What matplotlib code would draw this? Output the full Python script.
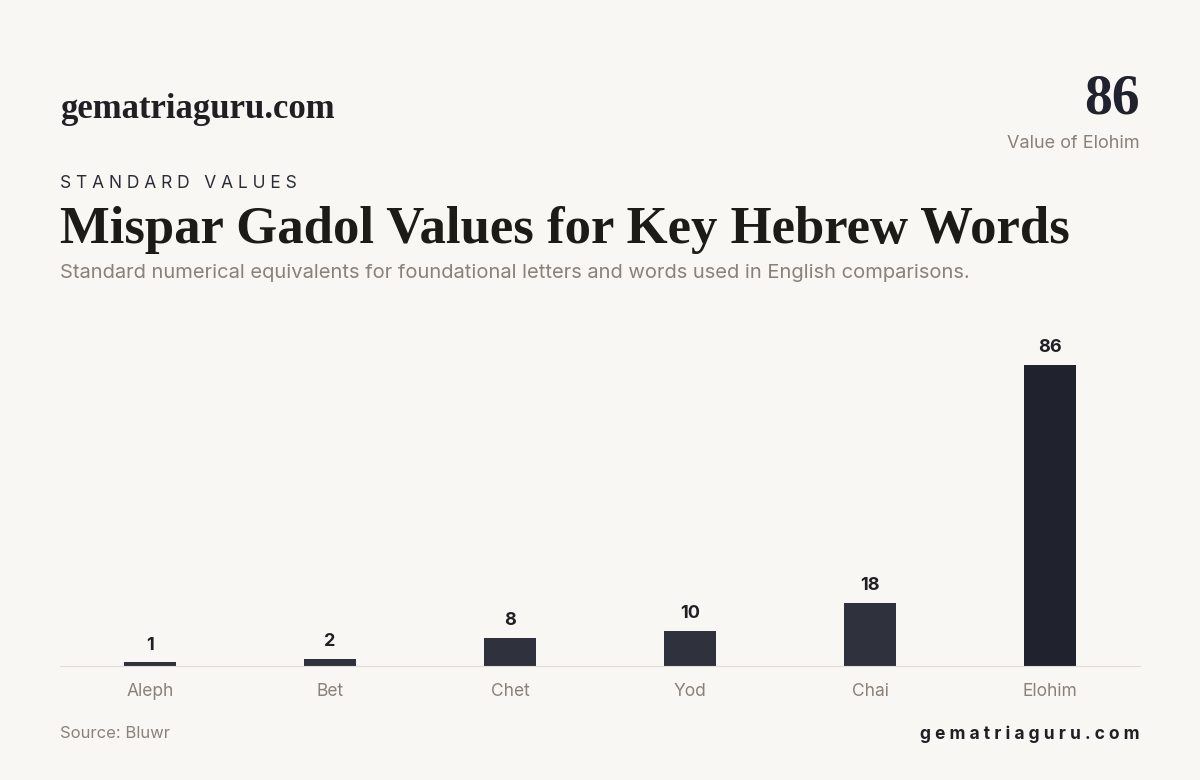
import matplotlib.pyplot as plt
import numpy as np

labels = ["Aleph", "Bet", "Chet", "Yod", "Chai", "Elohim"]
values = [1, 2, 8, 10, 18, 86]

bg = "#f9f7f4"
fig = plt.figure(figsize=(12, 7.8), dpi=100, facecolor=bg)
ax = fig.add_axes([0.05, 0.1462, 0.9, 301 / 780])
ax.set_facecolor(bg)

x = np.arange(len(labels))
colors = ["#2f323c"] * 5 + ["#20232d"]
ax.bar(x, values, width=0.29, color=colors)
for xi, v in zip(x, values):
    ax.text(xi, v + 2.5, str(v), ha="center", va="bottom", fontsize=13,
            fontweight="bold", color="#1f1f24", family="Inter")

ax.set_xlim(-0.5, len(labels) - 0.5)
ax.set_ylim(0, 86)
ax.set_yticks([])
ax.set_xticks(x)
ax.set_xticklabels(labels, fontsize=12.5, color="#8a8178", family="Inter")
ax.tick_params(axis="x", length=0, pad=12)
for s in ["top", "left", "right"]:
    ax.spines[s].set_visible(False)
ax.spines["bottom"].set_color("#e2ddd6")

serif = ["Liberation Serif", "DejaVu Serif"]
fig.text(60 / 1200, 1 - 110 / 780, "gematriaguru.com", fontsize=25, fontweight="bold",
         family=serif, color="#1f1f24", va="center")
fig.text(1140 / 1200, 1 - 100 / 780, "86", fontsize=40, fontweight="bold",
         family=serif, color="#20232d", ha="right", va="center")
fig.text(1140 / 1200, 1 - 143 / 780, "Value of Elohim", fontsize=13, color="#8a8178",
         family="Inter", ha="right", va="center")
fig.text(60 / 1200, 1 - 184 / 780, "S T A N D A R D   V A L U E S", fontsize=12.5,
         color="#2a2d37", family="Inter", va="center")
fig.text(60 / 1200, 1 - 230 / 780, "Mispar Gadol Values for Key Hebrew Words",
         fontsize=38, fontweight="bold", family=serif, color="#1c1b18", va="center")
fig.text(60 / 1200, 1 - 273 / 780,
         "Standard numerical equivalents for foundational letters and words used in English comparisons.",
         fontsize=14.5, color="#8a8178", family="Inter", va="center")
fig.text(60 / 1200, 1 - 734 / 780, "Source: Bluwr", fontsize=12, color="#8a8178",
         family="Inter", va="center")
fig.text(1140 / 1200, 1 - 734 / 780, "g e m a t r i a g u r u . c o m", fontsize=12.5,
         fontweight="bold", color="#1f1f24", family="Inter", ha="right", va="center")

fig.savefig("out.png", dpi=100, facecolor=bg)
